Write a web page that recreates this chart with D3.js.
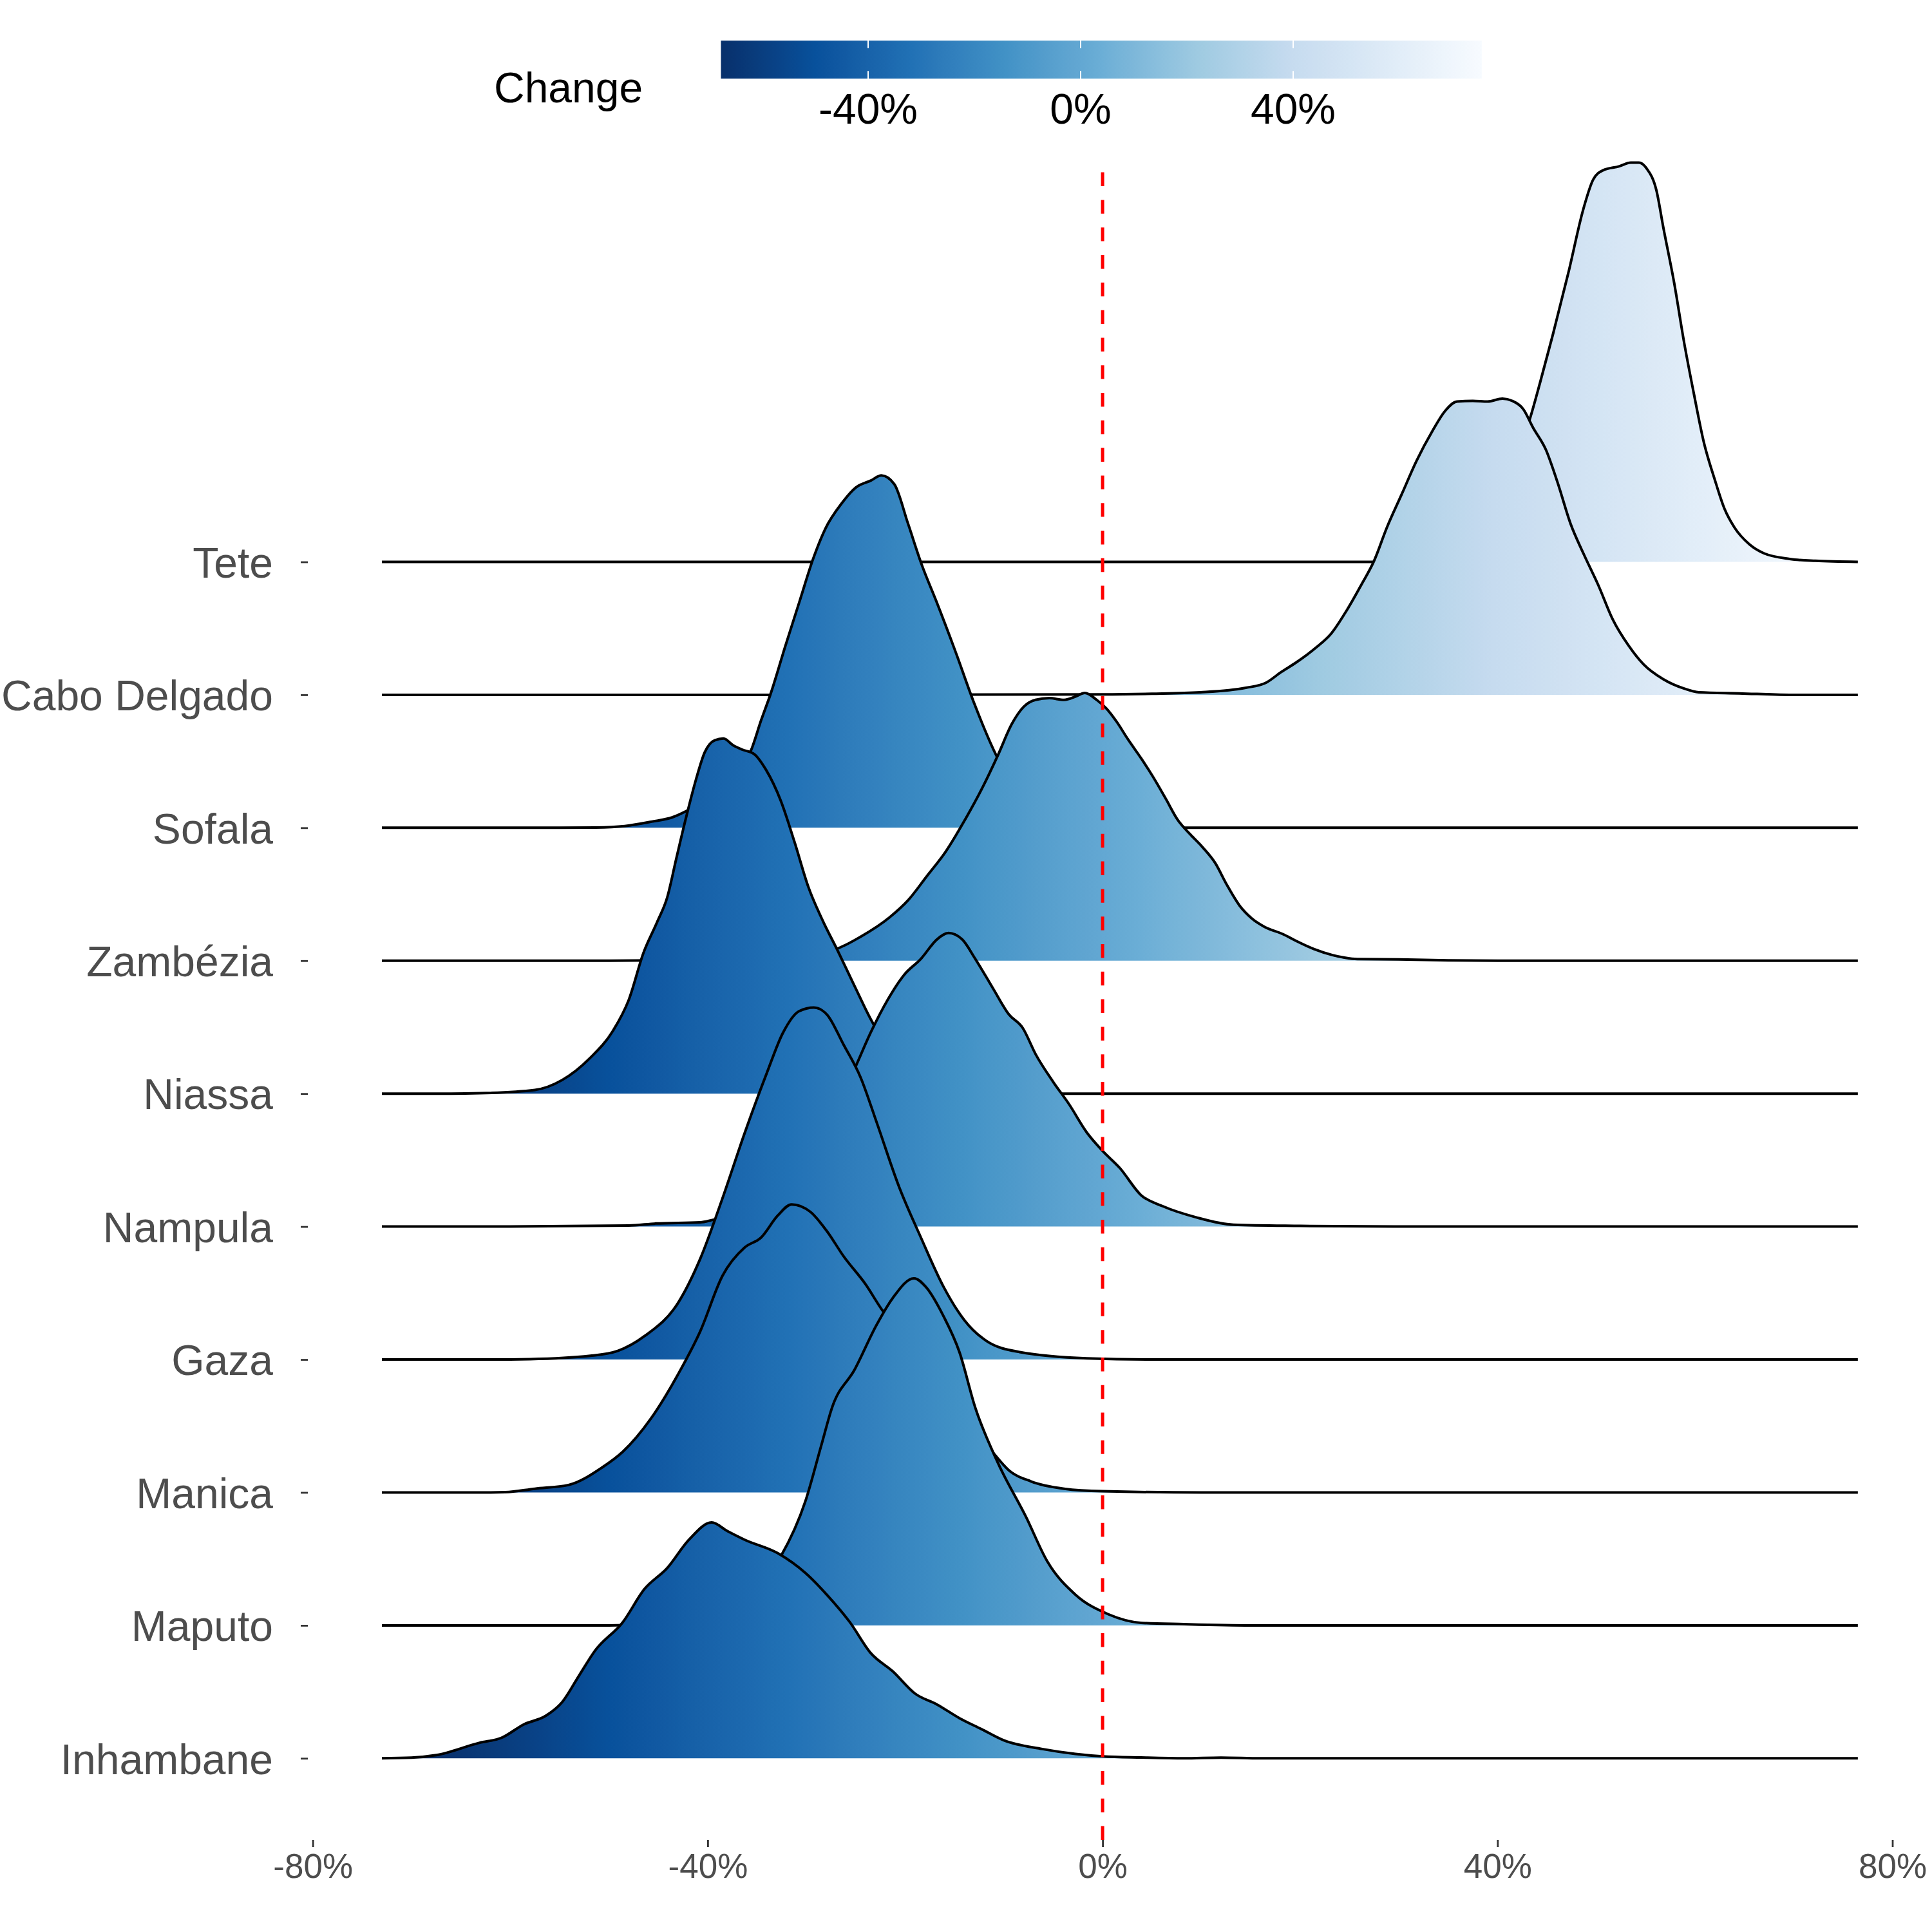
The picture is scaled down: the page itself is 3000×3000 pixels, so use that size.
<!DOCTYPE html>
<html>
<head>
<meta charset="utf-8">
<script src="https://cdn.jsdelivr.net/npm/d3@7"></script>
<style>
  html, body { margin: 0; padding: 0; background: #ffffff; }
  svg { display: block; font-family: "Liberation Sans", Arial, Helvetica, sans-serif; }
</style>
</head>
<body>
<svg id="chart" width="3000" height="3000"></svg>
<script>
// ---------------- data ----------------
// regions, top row first
const regions = ["Tete", "Cabo Delgado", "Sofala", "Zambézia", "Niassa",
                 "Nampula", "Gaza", "Manica", "Maputo", "Inhambane"];

// density curves: [change %, scaled density (1 = one row spacing)]
const teteDensity = [[-73,0],[30,0],[33,0.01],[35,0.05],[37,0.15],[39,0.35],[41,0.65],[42.3,0.87],[43.3,1.081],[44.3,1.345],[45.6,1.707],[47.2,2.181],[48.7,2.655],[49.7,2.877],[50.7,2.946],[52.3,2.975],[53.5,3.003],[54.3,3.003],[55.1,2.96],[56.1,2.794],[56.8,2.515],[57.9,2.097],[58.9,1.652],[59.9,1.262],[60.9,0.9],[62.0,0.621],[63.0,0.398],[64.0,0.259],[65.5,0.133],[67.0,0.064],[69.6,0.022],[72.2,0.008],[76.5,0]];
const caboDelgadoDensity = [[-73,0],[-30,0],[0,0.003],[5,0.008],[9.9,0.019],[14.5,0.053],[16.5,0.089],[18.1,0.172],[19.6,0.243],[21.6,0.354],[23.2,0.465],[24.7,0.632],[26.2,0.827],[27.5,1.008],[28.8,1.259],[30.3,1.509],[31.8,1.76],[33.4,1.983],[34.7,2.136],[35.9,2.206],[37.5,2.211],[39.0,2.206],[40.5,2.228],[41.5,2.211],[42.6,2.15],[43.6,2.01],[44.9,1.844],[46.1,1.594],[47.4,1.287],[48.7,1.064],[50.2,0.827],[51.7,0.563],[53.3,0.368],[54.8,0.229],[56.8,0.117],[58.9,0.047],[60.4,0.019],[64.5,0.011],[69.6,0],[76.5,0]];
const sofalaDensity = [[-73,0],[-55,0],[-51.3,0.002],[-48.4,0.013],[-45.6,0.047],[-43.6,0.078],[-41.7,0.143],[-39,0.26],[-37,0.42],[-35.6,0.584],[-34.6,0.806],[-33.6,1.013],[-32.2,1.351],[-30.7,1.702],[-29.3,2.027],[-28.1,2.247],[-26.4,2.443],[-25.0,2.559],[-23.5,2.611],[-22.4,2.65],[-21.1,2.585],[-19.7,2.286],[-18.3,1.975],[-16.9,1.715],[-14.9,1.325],[-13.0,0.935],[-10.6,0.519],[-8,0.22],[-5,0.07],[-2,0.015],[2,0],[76.5,0]];
const zambeziaDensity = [[-73,0],[-50,0],[-45,0.003],[-40,0.01],[-35,0.02],[-31,0.04],[-28.5,0.065],[-26.9,0.091],[-24.5,0.181],[-21.6,0.325],[-19.7,0.455],[-17.8,0.636],[-15.9,0.819],[-14.0,1.052],[-12.1,1.312],[-10.6,1.546],[-9.2,1.78],[-8.0,1.909],[-6.8,1.962],[-5.4,1.975],[-3.9,1.962],[-2.7,1.988],[-1.8,2.014],[-0.6,1.962],[0.4,1.896],[1.4,1.8],[2.6,1.662],[3.9,1.523],[5.1,1.384],[6.4,1.218],[7.6,1.06],[8.9,0.949],[10.1,0.856],[11.4,0.736],[12.6,0.569],[13.9,0.412],[15.1,0.319],[16.4,0.255],[18.3,0.199],[19.5,0.153],[21.4,0.088],[23.3,0.042],[24.5,0.023],[25.8,0.012],[30,0.01],[35,0.003],[40,0],[76.5,0]];
const niassaDensity = [[-73,0],[-66,0],[-63.1,0.003],[-57.5,0.028],[-54.75,0.102],[-51.9,0.269],[-49.6,0.472],[-48,0.704],[-46.5,1.06],[-45.1,1.294],[-44.1,1.476],[-43.2,1.762],[-42.2,2.074],[-41.2,2.359],[-40.3,2.568],[-39.3,2.658],[-38.4,2.671],[-37.4,2.619],[-36.5,2.588],[-35.3,2.555],[-34.1,2.437],[-32.6,2.204],[-31.2,1.892],[-29.8,1.554],[-28.3,1.294],[-26.9,1.086],[-25.1,0.806],[-23.1,0.509],[-20,0.25],[-16,0.1],[-12,0.04],[-8,0.01],[-4,0],[76.5,0]];
const nampulaDensity = [[-73,0],[-60,0],[-48,0.008],[-45.25,0.023],[-40.75,0.032],[-39.4,0.051],[-36.75,0.08],[-34.25,0.17],[-31.75,0.32],[-29.25,0.57],[-26.75,0.93],[-25.1,1.19],[-23.5,1.458],[-21.75,1.708],[-20.1,1.894],[-18.4,2.014],[-16.75,2.162],[-15.6,2.208],[-14.25,2.162],[-12.9,2.014],[-11.1,1.792],[-9.5,1.597],[-8.1,1.495],[-6.75,1.292],[-5,1.088],[-3.4,0.921],[-1.6,0.708],[0,0.569],[1.75,0.44],[3.9,0.236],[6.1,0.153],[9.5,0.069],[13.25,0.014],[20,0.005],[30,0],[76.5,0]];
const gazaDensity = [[-73,0],[-62,0],[-58,0.003],[-51.9,0.028],[-49.1,0.065],[-46.4,0.176],[-43,0.426],[-40.75,0.759],[-38.5,1.213],[-36.25,1.704],[-34,2.157],[-32.4,2.454],[-30.75,2.62],[-29.25,2.648],[-27.9,2.593],[-26.25,2.37],[-24.5,2.12],[-22.9,1.787],[-20.6,1.296],[-18.4,0.917],[-16.1,0.546],[-14,0.296],[-11.75,0.139],[-8.4,0.056],[-1.6,0.009],[5,0],[76.5,0]];
const manicaDensity = [[-73,0],[-62,0],[-60.5,0.002],[-57.5,0.028],[-54.1,0.056],[-50.75,0.185],[-48.6,0.306],[-45.75,0.556],[-43,0.889],[-40.75,1.213],[-38.5,1.63],[-36.25,1.843],[-34.6,1.917],[-32.9,2.083],[-31.5,2.167],[-29.6,2.111],[-27.9,1.963],[-26.25,1.778],[-24,1.565],[-22.4,1.38],[-20.5,1.2],[-18,0.97],[-15.5,0.74],[-13,0.48],[-11.1,0.3],[-9.5,0.167],[-7.25,0.083],[-3.9,0.028],[0,0.009],[10,0],[76.5,0]];
const maputoDensity = [[-73,0],[-50,0],[-45.5,0.01],[-41.75,0.046],[-39.25,0.111],[-36.75,0.23],[-32.6,0.519],[-30.1,0.935],[-28.5,1.352],[-27.4,1.639],[-25.1,1.926],[-22.9,2.259],[-21.25,2.463],[-19.1,2.611],[-17.9,2.546],[-16.1,2.324],[-14.5,2.056],[-12.9,1.639],[-10.6,1.222],[-7.75,0.815],[-5.6,0.481],[-2.75,0.231],[0.6,0.083],[3.9,0.019],[8.25,0.009],[15,0],[76.5,0]];
const inhambaneDensity = [[-73,0],[-70,0.005],[-67.5,0.024],[-63.1,0.117],[-60.9,0.154],[-58.6,0.256],[-56.4,0.32],[-54.75,0.422],[-53,0.626],[-51.4,0.811],[-48.6,1.024],[-46.4,1.274],[-44.1,1.431],[-41.9,1.644],[-39.6,1.774],[-38,1.709],[-36.25,1.644],[-32.9,1.543],[-30.1,1.394],[-27.9,1.228],[-25.6,1.024],[-23.5,0.793],[-21.25,0.654],[-19,0.487],[-16.75,0.404],[-14.5,0.302],[-12.25,0.219],[-10,0.135],[-6.1,0.07],[-2.75,0.033],[0,0.015],[3.9,0.006],[8.25,0],[12,0.005],[16,0],[76.5,0]];

const densities = [teteDensity, caboDelgadoDensity, sofalaDensity, zambeziaDensity, niassaDensity,
                   nampulaDensity, gazaDensity, manicaDensity, maputoDensity, inhambaneDensity];

// axis ticks
const xTicks = [-80, -40, 0, 40, 80];
const legendTicks = [-40, 0, 40];
// fill colour scale limits (range of the change values)
const fillRange = [-67.7, 75.5];
// Brewer "Blues", dark for low values
const bluesPalette = ["#08306B","#08519C","#2171B5","#4292C6","#6BAED6","#9ECAE1","#C6DBEF","#DEEBF7","#F7FBFF"];
const refLine = 0;

// ---------------- scales ----------------
const svg = d3.select("#chart");
svg.append("rect").attr("width", 3000).attr("height", 3000).attr("fill", "#ffffff");

const x = d3.scaleLinear().domain([-80, 80]).range([485.7, 2938.5]);
const y = d3.scalePoint().domain(regions).range([872.5, 2730.3]);
const hScale = d3.scaleLinear().domain([0, 1]).range([0, y.step()]);
const panelBottom = 2857;
const panelTop = 255;

const colorStops = d3.range(bluesPalette.length).map(i => fillRange[0] + i * (fillRange[1] - fillRange[0]) / (bluesPalette.length - 1));
const color = d3.scaleLinear().domain(colorStops).range(bluesPalette).interpolate(d3.interpolateLab);

const defs = svg.append("defs");
function addGradient(id, x1, x2) {
  const g = defs.append("linearGradient")
    .attr("id", id).attr("gradientUnits", "userSpaceOnUse")
    .attr("x1", x1).attr("x2", x2).attr("y1", 0).attr("y2", 0);
  const n = 80;
  d3.range(n + 1).forEach(i => {
    const v = fillRange[0] + i * (fillRange[1] - fillRange[0]) / n;
    g.append("stop").attr("offset", i / n).attr("stop-color", color(v));
  });
}
addGradient("ridgeGrad", x(fillRange[0]), x(fillRange[1]));

// ---------------- ridges ----------------
const ridgeLayer = svg.append("g");
regions.forEach((r, i) => {
  const base = y(r);
  const data = densities[i];
  const area = d3.area().curve(d3.curveMonotoneX)
    .x(d => x(d[0])).y0(base).y1(d => base - hScale(d[1]));
  const line = d3.line().curve(d3.curveMonotoneX)
    .x(d => x(d[0])).y(d => base - hScale(d[1]));
  const g = ridgeLayer.append("g");
  g.append("path").datum(data).attr("d", area).attr("fill", "url(#ridgeGrad)").attr("stroke", "none");
  g.append("path").datum(data).attr("d", line).attr("fill", "none")
    .attr("stroke", "#000000").attr("stroke-width", 4).attr("stroke-linejoin", "round");
});

// reference line at 0 %
svg.append("line")
  .attr("x1", x(refLine)).attr("x2", x(refLine))
  .attr("y1", panelBottom).attr("y2", panelTop)
  .attr("stroke", "#FF0000").attr("stroke-width", 5)
  .attr("stroke-dasharray", "21.4 21.4");

// ---------------- axes ----------------
const xAxis = d3.axisBottom(x).tickValues(xTicks).tickFormat(d => d + "%").tickSize(11).tickPadding(10);
const gx = svg.append("g").attr("transform", `translate(0,${panelBottom})`).call(xAxis);
gx.select(".domain").remove();
gx.selectAll(".tick line").attr("stroke", "#333333").attr("stroke-width", 2.8);
gx.selectAll(".tick text").attr("fill", "#4D4D4D").attr("font-size", 53)
  .attr("font-family", "Liberation Sans, Arial, sans-serif");

const yAxis = d3.axisLeft(y).tickSize(11).tickPadding(43);
const gy = svg.append("g").attr("transform", "translate(478,0)").call(yAxis);
gy.select(".domain").remove();
gy.selectAll(".tick line").attr("stroke", "#333333").attr("stroke-width", 2.8);
gy.selectAll(".tick text").attr("fill", "#4D4D4D").attr("font-size", 66).attr("dy", "0.36em")
  .attr("font-family", "Liberation Sans, Arial, sans-serif");

// ---------------- legend ----------------
const lx = d3.scaleLinear().domain([-40, 40]).range([1348, 2008]);
addGradient("legendGrad", lx(fillRange[0]), lx(fillRange[1]));
const barTop = 63, barH = 59;
const legend = svg.append("g");
legend.append("text").attr("x", 767).attr("y", 159).attr("font-size", 66).attr("fill", "#000000")
  .text("Change");
legend.append("rect").attr("x", lx(fillRange[0])).attr("y", barTop)
  .attr("width", lx(fillRange[1]) - lx(fillRange[0])).attr("height", barH)
  .attr("fill", "url(#legendGrad)");
legendTicks.forEach(t => {
  legend.append("line").attr("x1", lx(t)).attr("x2", lx(t)).attr("y1", barTop).attr("y2", barTop + barH * 0.2)
    .attr("stroke", "#ffffff").attr("stroke-width", 2);
  legend.append("line").attr("x1", lx(t)).attr("x2", lx(t)).attr("y1", barTop + barH * 0.8).attr("y2", barTop + barH)
    .attr("stroke", "#ffffff").attr("stroke-width", 2);
  legend.append("text").attr("x", lx(t)).attr("y", 192).attr("text-anchor", "middle")
    .attr("font-size", 66).attr("fill", "#000000").text(t + "%");
});
</script>
</body>
</html>
